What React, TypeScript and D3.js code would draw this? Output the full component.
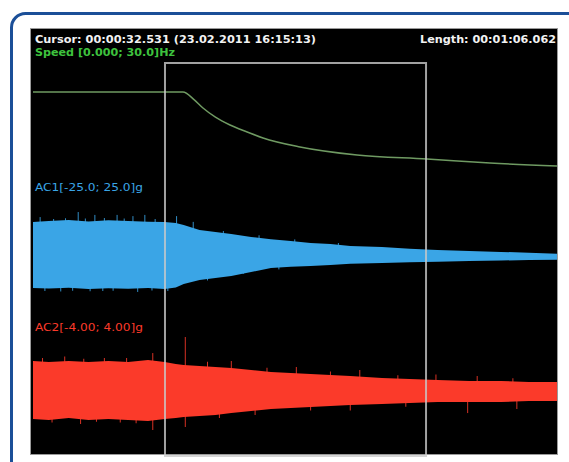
import React from "react";
import * as d3 from "d3";

// ---- data ----
const totalLength = 66.062; // seconds
const cursorWindow = [16.64, 49.55]; // seconds

const speedTimes = [0, 18.91, 20.3, 21.43, 23.0, 24.84, 27.0, 29.0, 33.66, 40.85, 49.67, 57.61, 66.06];
const speedHz = [23.85, 23.85, 21.9, 19.74, 17.4, 15.38, 13.6, 12.05, 9.74, 7.69, 6.67, 5.64, 4.87];

const envTimes = [0, 2, 4.5, 7, 9.5, 12, 14.5, 16.6, 18, 19, 21, 23, 25, 27.5, 30, 32.5, 35, 37.5, 40, 44, 47.5, 51, 55, 59, 62.5, 66.06];
const ac1Top = [13.8, 14.2, 14.6, 14.0, 14.5, 14.2, 13.9, 13.8, 13.3, 12.5, 10.4, 9.6, 8.7, 7.5, 6.6, 5.8, 5.0, 4.6, 3.8, 3.3, 2.6, 2.1, 1.7, 1.3, 0.9, 0.5];
const ac1Bottom = [-13.8, -14.0, -13.6, -14.2, -13.9, -14.1, -13.7, -14.2, -13.5, -12.1, -10.4, -9.6, -8.7, -7.1, -5.4, -4.9, -4.6, -4.2, -3.6, -3.3, -3.0, -2.8, -2.5, -2.3, -2.1, -2.0];
const ac2Top = [2.0, 1.93, 2.0, 1.93, 2.0, 1.93, 2.07, 1.93, 1.8, 1.73, 1.67, 1.6, 1.53, 1.4, 1.27, 1.2, 1.13, 1.07, 1.0, 0.87, 0.8, 0.73, 0.67, 0.67, 0.6, 0.6];
const ac2Bottom = [-1.87, -1.93, -1.8, -1.93, -1.87, -1.93, -2.0, -1.87, -1.8, -1.73, -1.67, -1.6, -1.47, -1.33, -1.2, -1.13, -1.07, -1.0, -0.93, -0.87, -0.8, -0.73, -0.73, -0.73, -0.67, -0.67];

const ac1SpikeTimes = [0.9, 2.6, 4.1, 5.7, 6.6, 7.8, 9.0, 10.6, 11.5, 12.6, 14.1, 15.4, 18.1, 20.2, 24.0, 28.5, 33.0, 38.5];
const ac1SpikeValues = [15.8, 15.0, 15.3, 17.9, 15.2, 16.7, 15.4, 16.7, 15.2, 16.2, 16.7, 15.0, 16.2, 13.8, 10.0, 8.2, 6.5, 5.0];
const ac1SpikeLowTimes = [1.5, 3.5, 5.0, 7.2, 8.8, 10.1, 13.2, 15.0, 17.0, 22.0, 26.5, 31.0];
const ac1SpikeLowValues = [-15.0, -15.2, -14.9, -15.1, -15.0, -14.9, -15.4, -14.8, -15.0, -10.6, -7.9, -6.0];

const ac2SpikeTimes = [1.2, 4.0, 6.4, 9.0, 11.8, 15.1, 19.2, 22.0, 25.0, 29.5, 33.2, 37.5, 41.2, 46.0, 50.8, 56.0, 60.5];
const ac2SpikeValues = [2.2, 2.3, 2.15, 2.2, 2.2, 2.53, 3.6, 1.95, 2.0, 1.55, 1.6, 1.3, 1.4, 1.05, 1.1, 1.0, 0.85];
const ac2SpikeLowTimes = [2.4, 6.0, 8.0, 11.0, 13.0, 15.1, 19.2, 23.5, 28.0, 35.0, 40.0, 47.0, 54.8, 61.0];
const ac2SpikeLowValues = [-2.1, -2.2, -2.05, -2.1, -2.15, -2.6, -2.4, -1.8, -1.6, -1.3, -1.3, -1.05, -1.47, -1.2];

const headerLeft = "Cursor: 00:00:32.531 (23.02.2011 16:15:13)";
const headerRight = "Length: 00:01:06.062";
const speedLabel = "Speed [0.000; 30.0]Hz";
const ac1Label = "AC1[-25.0; 25.0]g";
const ac2Label = "AC2[-4.00; 4.00]g";

// ---- layout ----
const W = 569;
const H = 462;
const panel = { x: 31, y: 29, w: 526, h: 425 };

export default function App() {
  const x = d3.scaleLinear().domain([0, totalLength]).range([33, 557]);
  const ySpeed = d3.scaleLinear().domain([0, 30]).range([185, 68]);
  const yAc1 = d3.scaleLinear().domain([-25, 25]).range([315, 195]);
  const yAc2 = d3.scaleLinear().domain([-4, 4]).range([451, 331]);

  const speedLine = d3
    .line<number>()
    .x((_, i) => x(speedTimes[i]))
    .y((d) => ySpeed(d))
    .curve(d3.curveMonotoneX)(speedHz) as string;

  const envArea = (top: number[], bot: number[], y: d3.ScaleLinear<number, number>) =>
    d3
      .area<number>()
      .x((t) => x(t))
      .y0((_, i) => y(bot[i]))
      .y1((_, i) => y(top[i]))
      .curve(d3.curveLinear)(envTimes) as string;

  const font = "'DejaVu Sans', Verdana, sans-serif";
  const blue = "#3aa5e6";
  const red = "#fb3a2a";

  const spikes = (ts: number[], vs: number[], y: d3.ScaleLinear<number, number>, color: string, k: string) =>
    ts.map((t, i) => (
      <line key={k + i} x1={x(t)} x2={x(t)} y1={y(0)} y2={y(vs[i])} stroke={color} strokeWidth={1} strokeOpacity={0.85} />
    ));

  return (
    <svg width={W} height={H} style={{ position: "absolute", left: 0, top: 0, background: "#fff" }}>
      <rect x={11.5} y={13.5} width={620} height={520} rx={14} fill="#fff" stroke="#1b4f98" strokeWidth={3} />
      <rect x={panel.x - 1} y={panel.y - 1} width={panel.w + 2} height={panel.h + 2} fill="#9a9a9a" />
      <rect x={panel.x} y={panel.y} width={panel.w} height={panel.h} fill="#000" />

      <text x={35} y={43} fill="#f2f2f2" fontFamily={font} fontWeight="bold" fontSize={10.5} textLength={281} lengthAdjust="spacingAndGlyphs">{headerLeft}</text>
      <text x={420} y={43} fill="#f2f2f2" fontFamily={font} fontWeight="bold" fontSize={10.5} textLength={136} lengthAdjust="spacingAndGlyphs">{headerRight}</text>
      <text x={35} y={56} fill="#3ec23e" fontFamily={font} fontWeight="bold" fontSize={10.5} textLength={140} lengthAdjust="spacingAndGlyphs">{speedLabel}</text>

      <path d={speedLine} fill="none" stroke="#6f9a62" strokeWidth={1.5} />

      <text x={35} y={191} fill={blue} fontFamily={font} fontSize={10.5} textLength={108} lengthAdjust="spacingAndGlyphs">{ac1Label}</text>
      {spikes(ac1SpikeTimes, ac1SpikeValues, yAc1, blue, "a1t")}
      {spikes(ac1SpikeLowTimes, ac1SpikeLowValues, yAc1, blue, "a1b")}
      <path d={envArea(ac1Top, ac1Bottom, yAc1)} fill={blue} />

      <text x={35} y={331} fill={red} fontFamily={font} fontSize={10.5} textLength={108} lengthAdjust="spacingAndGlyphs">{ac2Label}</text>
      {spikes(ac2SpikeTimes, ac2SpikeValues, yAc2, red, "a2t")}
      {spikes(ac2SpikeLowTimes, ac2SpikeLowValues, yAc2, red, "a2b")}
      <path d={envArea(ac2Top, ac2Bottom, yAc2)} fill={red} />

      <rect
        x={x(cursorWindow[0])}
        y={63}
        width={x(cursorWindow[1]) - x(cursorWindow[0])}
        height={panel.y + panel.h - 63 + 2}
        fill="none"
        stroke="#c9c9c9"
        strokeOpacity={0.8}
        strokeWidth={2}
      />
    </svg>
  );
}
